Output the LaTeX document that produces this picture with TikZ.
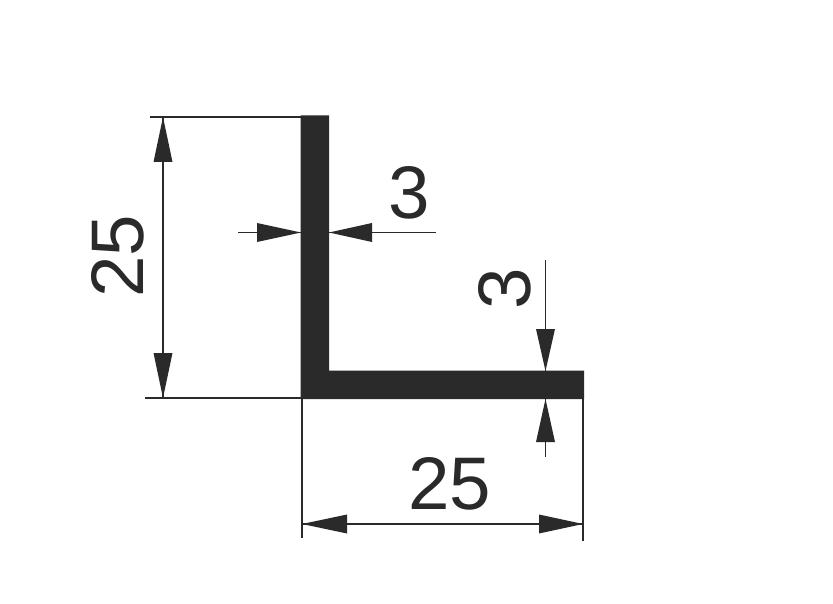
\documentclass[tikz,border=0pt]{standalone}
\usepackage{fontspec}
\setmainfont{Liberation Sans}
\definecolor{ink}{HTML}{2A2A2A}
\tikzset{
  dimline/.style={draw=ink,line width=1.5pt},
  head/.style={fill=ink,draw=none},
  dimtext/.style={text=ink,font=\fontsize{74.5}{74.5}\selectfont,inner sep=0pt,anchor=center}
}
\begin{document}
\begin{tikzpicture}[x=1pt,y=-1pt]
\useasboundingbox (0,0) rectangle (833,604);
\fill[white] (0,0) rectangle (833,604);
\fill[ink] (300.7,115.5) -- (329,115.5) -- (329,370.7) -- (584,370.7) -- (584,399) -- (300.7,399) -- cycle;
\coordinate (a1) at (150,117); \coordinate (a2) at (301,117);
\coordinate (b1) at (145,398); \coordinate (b2) at (301,398);
\draw[dimline] (a1) -- (a2);
\draw[dimline] (b1) -- (b2);
\coordinate (c1) at (163,117); \coordinate (c2) at (163,398);
\draw[dimline] (c1) -- (c2);
\fill[head] (c1) -- (172.5,162) -- (153.5,162) -- cycle;
\fill[head] (c2) -- (172.5,353) -- (153.5,353) -- cycle;
\node[dimtext,rotate=90] (t25a) at (118,256) {25};
\coordinate (d1) at (238,232.5); \coordinate (d2) at (301,232.5);
\coordinate (e1) at (329,232.5); \coordinate (e2) at (436,232.5);
\draw[dimline] (d1) -- (d2);
\draw[dimline] (e1) -- (e2);
\fill[head] (d2) -- (257,223) -- (257,242) -- cycle;
\fill[head] (e1) -- (372,223) -- (372,242) -- cycle;
\node[dimtext] (t3a) at (409.5,192.5) {3};
\coordinate (f1) at (545.5,260); \coordinate (f2) at (545.5,371);
\coordinate (g1) at (545.5,399); \coordinate (g2) at (545.5,457);
\draw[dimline] (f1) -- (f2);
\draw[dimline] (g1) -- (g2);
\fill[head] (f2) -- (536,329) -- (555,329) -- cycle;
\fill[head] (g1) -- (536,442) -- (555,442) -- cycle;
\node[dimtext,rotate=90] (t3b) at (504.5,288.5) {3};
\coordinate (h1) at (302,399); \coordinate (h2) at (302,538);
\coordinate (i1) at (583,399); \coordinate (i2) at (583,541);
\draw[dimline] (h1) -- (h2);
\draw[dimline] (i1) -- (i2);
\coordinate (j1) at (302,524); \coordinate (j2) at (583,524);
\draw[dimline] (j1) -- (j2);
\fill[head] (j1) -- (347,514.5) -- (347,533.5) -- cycle;
\fill[head] (j2) -- (539,514.5) -- (539,533.5) -- cycle;
\node[dimtext] (t25b) at (450,484) {25};
\end{tikzpicture}
\end{document}
